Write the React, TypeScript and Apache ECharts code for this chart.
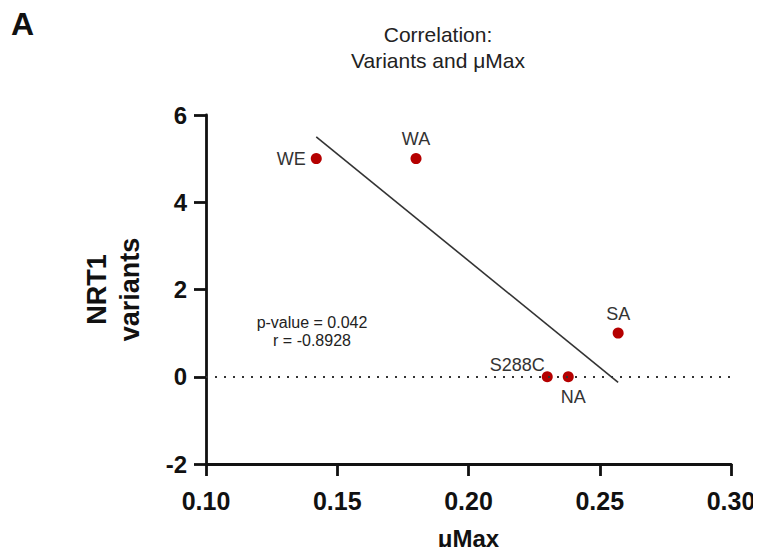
import React, { useEffect, useRef } from "react";
import * as echarts from "echarts";

const strains = ["WE", "WA", "SA", "S288C", "NA"];
const muMax = [0.142, 0.18, 0.257, 0.23, 0.238];
const variants = [5, 5, 1, 0, 0];
const xTicks = { min: 0.1, max: 0.3, interval: 0.05 };
const yTicks = { min: -2, max: 6, interval: 2 };
const statsText = ["p-value = 0.042", "r = -0.8928"];

const FONT = "Arial, 'Liberation Sans', Helvetica, sans-serif";

function fitLine() {
  const n = muMax.length;
  const mx = muMax.reduce((a, b) => a + b, 0) / n;
  const my = variants.reduce((a, b) => a + b, 0) / n;
  let sxy = 0;
  let sxx = 0;
  for (let i = 0; i < n; i++) {
    sxy += (muMax[i] - mx) * (variants[i] - my);
    sxx += (muMax[i] - mx) ** 2;
  }
  const b = sxy / sxx;
  const a = my - b * mx;
  const x0 = Math.min(...muMax);
  const x1 = Math.max(...muMax);
  return [
    [x0, a + b * x0],
    [x1, a + b * x1],
  ];
}

const labelStyles: Record<string, any> = {
  WE: { position: "left", distance: 5 },
  WA: { position: "top", distance: 5 },
  SA: { position: "top", distance: 5 },
  S288C: { position: "left", distance: -3, offset: [0, -12] },
  NA: { position: "bottom", distance: 6, offset: [5, 0] },
};

export default function App() {
  const ref = useRef<HTMLDivElement>(null);
  useEffect(() => {
    if (!ref.current) return;
    const chart = echarts.init(ref.current, null, { renderer: "svg" });
    const pts = strains.map((s, i) => ({
      name: s,
      value: [muMax[i], variants[i]],
      label: { show: true, formatter: s, ...labelStyles[s] },
    }));
    chart.setOption({
      animation: false,
      textStyle: { fontFamily: FONT },
      title: {
        text: "Correlation:\nVariants and μMax",
        left: 433,
        top: 16,
        textAlign: "center",
        textStyle: {
          fontFamily: FONT,
          fontSize: 21,
          fontWeight: "normal",
          color: "#222",
          lineHeight: 26,
        },
      },
      graphic: [
        {
          type: "text",
          left: 11,
          top: 8,
          style: { text: "A", font: `bold 32px ${FONT}`, fill: "#111" },
        },
        {
          type: "text",
          x: 312,
          y: 331,
          style: {
            text: statsText.join("\n"),
            font: `16px ${FONT}`,
            fill: "#222",
            align: "center",
            verticalAlign: "middle",
            lineHeight: 18,
          },
        },
      ],
      grid: {
        left: 206,
        right: 30,
        top: 115,
        bottom: 91,
        containLabel: false,
        outerBoundsMode: "none",
      },
      xAxis: {
        type: "value",
        min: xTicks.min,
        max: xTicks.max,
        interval: xTicks.interval,
        name: "μMax",
        nameLocation: "middle",
        nameGap: 62,
        nameTextStyle: {
          fontSize: 24,
          fontWeight: "bold",
          color: "#111",
          fontFamily: FONT,
          lineHeight: 24,
        },
        axisLine: { onZero: false, lineStyle: { color: "#111", width: 2.8 } },
        axisTick: { length: 12, lineStyle: { color: "#111", width: 2.8 } },
        axisLabel: {
          margin: 24,
          fontSize: 25,
          fontWeight: "bold",
          color: "#111",
          formatter: (v: number) => v.toFixed(2),
        },
        splitLine: { show: false },
      },
      yAxis: {
        type: "value",
        min: yTicks.min,
        max: yTicks.max,
        interval: yTicks.interval,
        name: "NRT1\nvariants",
        nameLocation: "middle",
        nameGap: 60,
        nameTextStyle: {
          fontSize: 27,
          fontWeight: "bold",
          color: "#111",
          lineHeight: 33,
          fontFamily: FONT,
        },
        axisLine: { onZero: false, lineStyle: { color: "#111", width: 2.8 } },
        axisTick: { length: 12, lineStyle: { color: "#111", width: 2.8 } },
        axisLabel: { margin: 19, fontSize: 24, fontWeight: "bold", color: "#111" },
        splitLine: { show: false },
      },
      series: [
        {
          type: "line",
          data: fitLine(),
          showSymbol: false,
          lineStyle: { color: "#333", width: 1.6 },
          silent: true,
          z: 2,
          markLine: {
            silent: true,
            symbol: "none",
            label: { show: false },
            lineStyle: { color: "#333", type: [2, 7], width: 2 },
            data: [{ yAxis: 0 }],
          },
        },
        {
          type: "scatter",
          data: pts,
          symbolSize: 11,
          itemStyle: { color: "#b50000", opacity: 1 },
          label: { fontSize: 18, color: "#333", fontFamily: FONT },
          z: 3,
        },
      ],
    });
    return () => chart.dispose();
  }, []);
  return <div ref={ref} style={{ width: 761, height: 555, margin: -8 }} />;
}
